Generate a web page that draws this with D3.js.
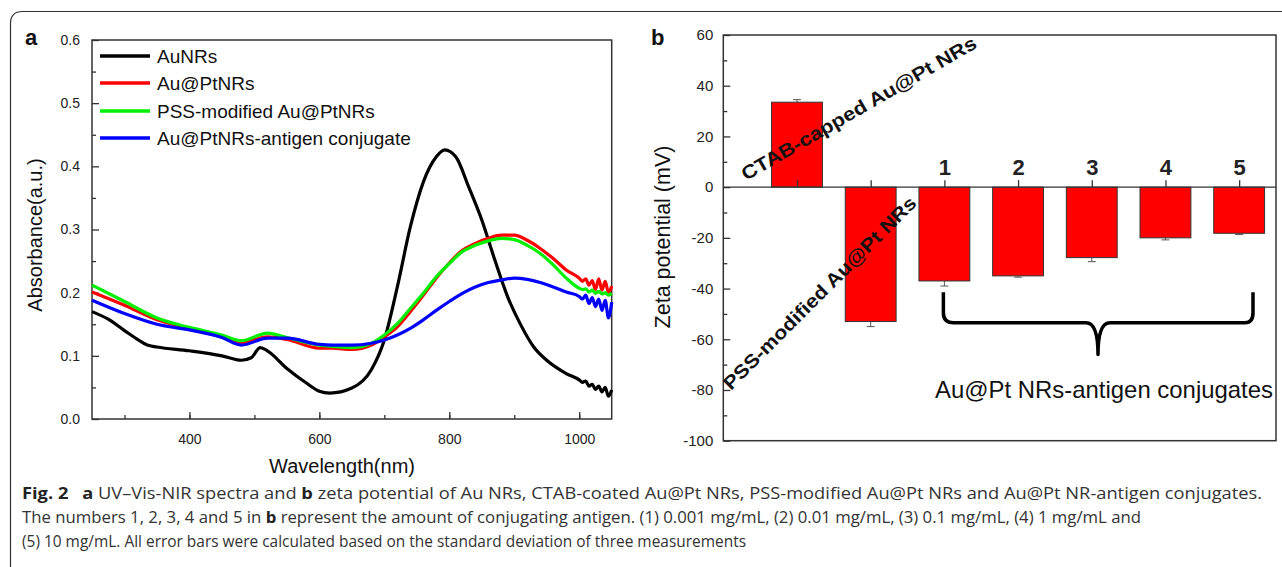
<!DOCTYPE html>
<html>
<meta charset="utf-8">
<head>
<style>
body { margin:0; padding:0; background:#fff; }
svg { display:block; }
.ax text { font-family: "Liberation Sans", Arial, sans-serif; font-size:14px; fill:#222; }
.ttl { font-family: "Liberation Sans", Arial, sans-serif; fill:#111; }
.cap { font-family: "Open Sans", "Noto Sans", sans-serif; font-size:16.5px; fill:#333; }
</style>
</head>
<body>
<svg id="fig"></svg>
<script src="https://cdnjs.cloudflare.com/ajax/libs/d3/7.8.5/d3.min.js"></script>
<script>

// ---- panel a : UV-Vis-NIR spectra ----
var seriesNames = ["AuNRs", "Au@PtNRs", "PSS-modified Au@PtNRs", "Au@PtNRs-antigen conjugate"];
var seriesColors = ["#000000", "#ff0000", "#00f000", "#0000ff"];

var wlBlack = [250,275,300,320,335,350,400,450,480,495,509,520,550,580,600,616,650,680,700,720,740,760,780,793,810,830,850,870,890,910,930,950,980,1000,1005,1010,1015,1020,1025,1030,1035,1040,1045,1050];
var absBlack = [.170,.158,.140,.126,.117,.114,.108,.100,.093,.097,.113,.108,.080,.057,.044,.041,.049,.078,.125,.209,.304,.375,.415,.426,.415,.367,.315,.252,.193,.149,.114,.093,.072,.062,.058,.060,.052,.055,.047,.052,.043,.050,.036,.046];

var wl = [250,300,350,400,450,480,520,550,600,620,650,680,700,720,740,760,780,800,820,840,860,880,900,920,940,960,980,1000,1005,1010,1015,1020,1025,1030,1035,1040,1045,1050];
var absRed = [.201,.180,.157,.1435,.130,.121,.130,.126,.112,.112,.110,.117,.130,.146,.170,.196,.223,.247,.267,.278,.286,.291,.291,.283,.270,.254,.236,.223,.218,.222,.212,.219,.205,.222,.204,.218,.200,.210];
var absGreen = [.212,.186,.160,.145,.133,.124,.136,.129,.117,.115,.113,.120,.133,.151,.175,.199,.225,.246,.265,.275,.282,.286,.284,.275,.262,.244,.223,.207,.205,.206,.201,.204,.199,.202,.198,.200,.196,.199];
var absBlue = [.188,.167,.150,.141,.129,.117,.128,.128,.118,.117,.117,.120,.125,.133,.1435,.157,.172,.186,.199,.209,.216,.220,.223,.221,.216,.209,.201,.194,.190,.196,.183,.192,.178,.190,.172,.188,.160,.185];

var xTicksA = [400, 600, 800, 1000];
var yTicksA = [0, 0.1, 0.2, 0.3, 0.4, 0.5, 0.6];

// ---- panel b : zeta potential ----
var zetaCats = ["CTAB-capped Au@Pt NRs", "PSS-modified Au@Pt NRs", "1", "2", "3", "4", "5"];
var zetaVals = [33.5, -53, -37, -35, -27.8, -20, -18.2];
var zetaErr = [1, 2, 2, 0.5, 1.6, 0.8, 0.5];
var yTicksB = [60, 40, 20, 0, -20, -40, -60, -80, -100];

var W = 1282, H = 567;
var svg = d3.select("#fig").attr("width", W).attr("height", H);

// outer frame
svg.append("path")
  .attr("d", "M10.5,600 L10.5,23.5 Q10.5,11.5 22.5,11.5 L1300,11.5")
  .attr("fill", "none").attr("stroke", "#333").attr("stroke-width", 1.2);

// ================= panel a =================
var xA = d3.scaleLinear().domain([250, 1050]).range([92, 611.7]);
var yA = d3.scaleLinear().domain([0, 0.6]).range([419, 40]);

var gA = svg.append("g");

gA.append("g").attr("class", "ax")
  .attr("transform", "translate(0,419)")
  .call(d3.axisBottom(xA).tickValues(d3.range(300, 1050, 100)).tickSize(-4).tickFormat(""))
  .call(function(g){ g.select(".domain").remove(); });
gA.append("g").attr("class", "ax")
  .attr("transform", "translate(0,419)")
  .call(d3.axisBottom(xA).tickValues(xTicksA).tickSize(-7).tickPadding(15).tickFormat(d3.format("d")))
  .call(function(g){ g.select(".domain").remove(); });
gA.append("g").attr("class", "ax")
  .attr("transform", "translate(92,0)")
  .call(d3.axisLeft(yA).tickValues(d3.range(0.05, 0.6, 0.1)).tickSize(-4).tickFormat(""))
  .call(function(g){ g.select(".domain").remove(); });
gA.append("g").attr("class", "ax")
  .attr("transform", "translate(92,0)")
  .call(d3.axisLeft(yA).tickValues(yTicksA).tickSize(-7).tickPadding(12).tickFormat(d3.format(".1f")))
  .call(function(g){ g.select(".domain").remove(); });
gA.selectAll(".ax line").attr("stroke", "#333").attr("stroke-width", 1.3);

gA.append("rect").attr("x", 92).attr("y", 40).attr("width", 611.7 - 92).attr("height", 379)
  .attr("fill", "none").attr("stroke", "#333").attr("stroke-width", 1.5);

var specs = [[wlBlack, absBlack], [wl, absRed], [wl, absGreen], [wl, absBlue]];
var line = d3.line().curve(d3.curveMonotoneX)
  .x(function(d){ return xA(d[0]); })
  .y(function(d){ return yA(d[1]); });

specs.forEach(function(s, i) {
  var pts = s[0].map(function(w, j){ return [w, s[1][j]]; });
  gA.append("path").datum(pts)
    .attr("d", line)
    .attr("fill", "none")
    .attr("stroke", seriesColors[i])
    .attr("stroke-width", 3.2)
    .attr("stroke-linejoin", "round");
});

// legend
var legY = [56, 83, 111, 138];
seriesNames.forEach(function(n, i) {
  gA.append("line").attr("x1", 100).attr("x2", 150).attr("y1", legY[i]).attr("y2", legY[i])
    .attr("stroke", seriesColors[i]).attr("stroke-width", 3.5);
  gA.append("text").attr("class", "ttl").attr("x", 157).attr("y", legY[i] + 6.5)
    .style("font-size", "19px").text(n);
});

gA.append("text").attr("class", "ttl").attr("x", 342).attr("y", 473)
  .attr("text-anchor", "middle").style("font-size", "20px").text("Wavelength(nm)");
gA.append("text").attr("class", "ttl")
  .attr("transform", "translate(42,235) rotate(-90)")
  .attr("text-anchor", "middle").style("font-size", "20px").text("Absorbance(a.u.)");
gA.append("text").attr("class", "ttl").attr("x", 25).attr("y", 45)
  .style("font-size", "22px").style("font-weight", "bold").text("a");

// ================= panel b =================
var xB = d3.scaleLinear().domain([0, 7.5]).range([723.3, 1276]);
var yB = d3.scaleLinear().domain([-100, 60]).range([440.7, 35]);
var gB = svg.append("g");

gB.append("g").attr("class", "ax")
  .attr("transform", "translate(723.3,0)")
  .call(d3.axisLeft(yB).tickValues(d3.range(-90, 60, 20)).tickSize(-4).tickFormat(""))
  .call(function(g){ g.select(".domain").remove(); });
gB.append("g").attr("class", "ax")
  .attr("transform", "translate(723.3,0)")
  .call(d3.axisLeft(yB).tickValues(yTicksB).tickSize(-7).tickPadding(10).tickFormat(function(d){ return String(d); }))
  .call(function(g){ g.select(".domain").remove(); });
gB.selectAll(".ax line").attr("stroke", "#333").attr("stroke-width", 1.3);
gB.selectAll(".ax text").style("font-size", "15px");

gB.append("rect").attr("x", 723.3).attr("y", 35).attr("width", 1276 - 723.3).attr("height", 440.7 - 35)
  .attr("fill", "none").attr("stroke", "#333").attr("stroke-width", 1.5);

// error bars (drawn under the bars, so only the outer half shows)
var bw = xB(0.69) - xB(0);
var cap = 4;
zetaVals.forEach(function(v, i) {
  var cx = xB(i + 1);
  var far = v + (v >= 0 ? zetaErr[i] : -zetaErr[i]);
  gB.append("line").attr("x1", cx).attr("x2", cx).attr("y1", yB(v)).attr("y2", yB(far))
    .attr("stroke", "#555").attr("stroke-width", 1);
  gB.append("line").attr("x1", cx - cap).attr("x2", cx + cap).attr("y1", yB(far)).attr("y2", yB(far))
    .attr("stroke", "#555").attr("stroke-width", 1);
});

gB.selectAll("rect.bar").data(zetaVals).enter().append("rect")
  .attr("class", "bar")
  .attr("x", function(d, i){ return xB(i + 1) - bw / 2; })
  .attr("y", function(d){ return yB(Math.max(0, d)); })
  .attr("width", bw)
  .attr("height", function(d){ return Math.abs(yB(d) - yB(0)); })
  .attr("fill", "#ff0000").attr("stroke", "#333").attr("stroke-width", 1);

// zero line with category ticks
var zeroAxis = gB.append("g").attr("class", "ax")
  .attr("transform", "translate(0," + yB(0) + ")")
  .call(d3.axisTop(xB).tickValues(d3.range(1, 8)).tickSize(7).tickPadding(5)
    .tickFormat(function(d){ return d >= 3 ? zetaCats[d - 1] : ""; }));
zeroAxis.select(".domain").attr("d", "M723.3,0H1276").attr("stroke", "#333").attr("stroke-width", 1.3);
zeroAxis.selectAll("line").attr("stroke", "#333").attr("stroke-width", 1.3);
zeroAxis.selectAll("text").style("font-size", "22px").style("font-weight", "bold").attr("fill", "#000");

// slanted labels
gB.append("text").attr("class", "ttl")
  .attr("transform", "translate(746,181) rotate(-30)")
  .attr("textLength", 268).attr("lengthAdjust", "spacingAndGlyphs")
  .style("font-size", "19px").style("font-weight", "bold").attr("fill", "#000")
  .text(zetaCats[0]);
gB.append("text").attr("class", "ttl")
  .attr("transform", "translate(731,391) rotate(-45)")
  .attr("textLength", 264).attr("lengthAdjust", "spacingAndGlyphs")
  .style("font-size", "19px").style("font-weight", "bold").attr("fill", "#000")
  .text(zetaCats[1]);

// brace under conjugates
var bL = xB(3) - 1, bR = 1253, bMid = 1098, bTop = yB(-41.5), bY = yB(-53.5), bTip = yB(-66);
gB.append("path")
  .attr("d", "M" + bL + "," + bTop + " L" + bL + "," + (bY - 10) + " Q" + bL + "," + bY + " " + (bL + 10) + "," + bY +
    " L" + (bMid - 12) + "," + bY + " Q" + bMid + "," + bY + " " + bMid + "," + bTip +
    " Q" + bMid + "," + bY + " " + (bMid + 12) + "," + bY +
    " L" + (bR - 8) + "," + bY + " Q" + bR + "," + bY + " " + bR + "," + (bY - 10) + " L" + bR + "," + bTop)
  .attr("fill", "none").attr("stroke", "#000").attr("stroke-width", 3.5).attr("stroke-linejoin", "round");
gB.append("text").attr("class", "ttl").attr("x", 935).attr("y", 398)
  .attr("textLength", 338).attr("lengthAdjust", "spacingAndGlyphs")
  .style("font-size", "24px").attr("fill", "#000").text("Au@Pt NRs-antigen conjugates");

gB.append("text").attr("class", "ttl")
  .attr("transform", "translate(670,237) rotate(-90)")
  .attr("text-anchor", "middle").style("font-size", "21.5px").text("Zeta potential (mV)");
gB.append("text").attr("class", "ttl").attr("x", 651).attr("y", 45)
  .style("font-size", "22px").style("font-weight", "bold").text("b");

// ================= caption =================
var capLines = [
  [["Fig. 2", true], ["\u2002 ", false], ["a", true], [" UV\u2013Vis-NIR spectra and ", false], ["b", true],
   [" zeta potential of Au NRs, CTAB-coated Au@Pt NRs, PSS-modified Au@Pt NRs and Au@Pt NR-antigen conjugates.", false]],
  [["The numbers 1, 2, 3, 4 and 5 in ", false], ["b", true],
   [" represent the amount of conjugating antigen. (1) 0.001 mg/mL, (2) 0.01 mg/mL, (3) 0.1 mg/mL, (4) 1 mg/mL and", false]],
  [["(5) 10 mg/mL. All error bars were calculated based on the standard deviation of three measurements", false]]
];
var capLen = [1240, 1119, 724];
capLines.forEach(function(parts, i) {
  var t = svg.append("text").attr("class", "cap").attr("x", 22).attr("y", 499 + i * 24)
    .attr("textLength", capLen[i]).attr("lengthAdjust", "spacingAndGlyphs");
  parts.forEach(function(p) {
    t.append("tspan").style("font-weight", p[1] ? "bold" : "normal")
      .attr("fill", p[1] ? "#222" : "#333").text(p[0]);
  });
});

</script>
</body>
</html>
